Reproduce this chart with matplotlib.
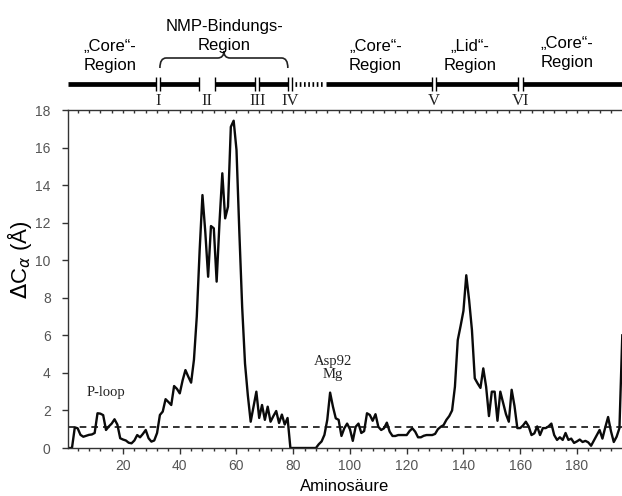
import numpy as np
import matplotlib
matplotlib.use("Agg")
import matplotlib.pyplot as plt
from matplotlib.path import Path
from matplotlib.patches import PathPatch
from matplotlib.ticker import MultipleLocator

plt.rcParams['font.family'] = ['Liberation Sans', 'DejaVu Sans']

# per-residue C-alpha displacement
residue = np.arange(1, 197)
dca = [
    0.0, 0.0, 1.1, 1.05, 0.7, 0.6, 0.65, 0.7, 0.72, 0.8,
    1.85, 1.83, 1.75, 0.96, 1.15, 1.3, 1.53, 1.25, 0.52, 0.45,
    0.4, 0.28, 0.25, 0.4, 0.69, 0.57, 0.75, 0.96, 0.52, 0.34,
    0.4, 0.8, 1.76, 1.94, 2.6, 2.45, 2.29, 3.3, 3.15, 2.91,
    3.6, 4.15, 3.8, 3.48, 4.7, 7.0, 10.5, 13.47, 11.5, 9.12,
    11.82, 11.7, 8.86, 12.0, 14.63, 12.23, 12.85, 17.1, 17.43, 15.87,
    11.5, 7.5, 4.5, 2.8, 1.4, 2.2, 3.0, 1.6, 2.29, 1.5,
    2.2, 1.4, 1.7, 1.97, 1.33, 1.78, 1.25, 1.6, 0.0, 0.0,
    0.0, 0.0, 0.0, 0.0, 0.0, 0.0, 0.0, 0.0, 0.2, 0.35,
    0.7, 1.5, 2.95, 2.2, 1.58, 1.5, 0.64, 1.05, 1.3, 1.0,
    0.38, 1.13, 1.3, 0.8, 0.9, 1.85, 1.76, 1.45, 1.8, 1.13,
    0.96, 1.05, 1.35, 0.87, 0.64, 0.64, 0.69, 0.69, 0.69, 0.69,
    0.9, 1.05, 0.87, 0.57, 0.57, 0.65, 0.69, 0.69, 0.69, 0.75,
    1.0, 1.13, 1.22, 1.5, 1.7, 2.0, 3.26, 5.75, 6.5, 7.3,
    9.2, 7.88, 6.28, 3.71, 3.44, 3.2, 4.24, 3.26, 1.7, 3.0,
    3.0, 1.45, 3.0, 2.4, 1.8, 1.4, 3.1, 2.24, 1.06, 1.06,
    1.2, 1.4, 1.15, 0.69, 0.78, 1.15, 0.69, 1.06, 1.06, 1.15,
    1.3, 0.69, 0.43, 0.57, 0.43, 0.8, 0.43, 0.5, 0.27, 0.35,
    0.45, 0.32, 0.38, 0.3, 0.12, 0.4, 0.69, 0.96, 0.5, 1.1,
    1.65, 0.9, 0.32, 0.6, 1.06, 6.0,
]
threshold = 1.12

# domain bar above the plot (residue numbers)
bar_solid = [(0.6, 31.6), (33.2, 46.7), (52.4, 66.6), (68.0, 78.3),
             (91.6, 129.0), (130.2, 159.3), (160.9, 196.0)]
bar_dotted = (80.6, 90.5)
break_lines = [31.6, 33.2, 46.7, 52.4, 66.6, 68.0, 78.3, 79.7,
               129.0, 130.2, 159.3, 160.9]
numerals = ['I', 'II', 'III', 'IV', 'V', 'VI']
numeral_pos = [32.4, 49.6, 67.3, 79.0, 129.6, 160.1]
brace_span = (33.0, 78.1)

region_labels = ['\u201eCore\u201c-\nRegion', 'NMP-Bindungs-\nRegion',
                 '\u201eCore\u201c-\nRegion', '\u201eLid\u201c-\nRegion',
                 '\u201eCore\u201c-\nRegion']
region_pos = [15.4, 55.6, 109.0, 142.2, 176.5]

xlim = (0.6, 195.9)

fig = plt.figure(figsize=(6.22, 4.96), dpi=100)
ax = fig.add_axes([68/622, 48/496, 554/622, 338/496])

ax.plot(residue, dca, color='#0a0a0a', lw=1.7)
ax.axhline(threshold, color='#111111', lw=1.2, linestyle=(0, (4, 3)))

ax.set_xlim(*xlim)
ax.set_ylim(0, 18)
ax.xaxis.set_major_locator(MultipleLocator(20))
ax.xaxis.set_minor_locator(MultipleLocator(4))
ax.yaxis.set_major_locator(MultipleLocator(2))
ax.spines['right'].set_visible(False)
for s in ['left', 'bottom', 'top']:
    ax.spines[s].set_color('#333333')
    ax.spines[s].set_linewidth(1.0)
ax.tick_params(axis='both', which='major', direction='out', length=4.5,
               width=1.0, color='#333333', labelsize=10, labelcolor='#555555')
ax.tick_params(axis='y', pad=8)
ax.tick_params(axis='x', which='minor', direction='out', length=2.5,
               width=1.0, color='#333333')

sec = ax.secondary_xaxis('top')
sec.xaxis.set_major_locator(MultipleLocator(20))
sec.xaxis.set_minor_locator(MultipleLocator(4))
sec.tick_params(which='both', direction='in', length=2.5, width=1.0,
                color='#333333', labeltop=False)
sec.spines['top'].set_visible(False)

ax.set_xlabel('Aminosäure', fontsize=12, labelpad=4)
fig.text(20/622, 1 - 260/496, r'$\Delta$C$_\alpha$ (Å)', fontsize=16,
         rotation=90, ha='center', va='center')

ax.text(14.0, 2.93, 'P-loop', family='Liberation Serif', fontsize=10.5,
        ha='center', va='center', color='#222222')
ax.text(94.0, 4.25, 'Asp92\nMg', family='Liberation Serif', fontsize=10.5,
        ha='center', va='center', color='#222222', linespacing=0.95)

# header strip: x in residues, y in pixels from the figure top
top = fig.add_axes([68/622, 386/496, 554/622, 110/496])
top.set_xlim(*xlim)
top.set_ylim(110, 0)
top.axis('off')

for a, b in bar_solid:
    top.plot([a, b], [84, 84], color='black', lw=3.4, solid_capstyle='butt',
             clip_on=False)
top.plot(bar_dotted, [84, 84], color='black', lw=3.4,
         linestyle=(0, (0.35, 0.55)), solid_capstyle='butt')
top.vlines(break_lines, 77, 91, color='black', lw=1.0)

for name, xp in zip(numerals, numeral_pos):
    top.text(xp, 101, name, family='Liberation Serif', fontsize=12,
             ha='center', va='center', color='#222222')

b0, b1 = brace_span
bm = (b0 + b1) / 2
r = 2.2
verts = [(b0, 68), (b0, 58), (b0 + r, 58), (bm - r, 58), (bm, 58), (bm, 51),
         (bm, 58), (bm + r, 58), (b1 - r, 58), (b1, 58), (b1, 68)]
codes = [Path.MOVETO, Path.CURVE3, Path.CURVE3, Path.LINETO, Path.CURVE3,
         Path.CURVE3, Path.CURVE3, Path.CURVE3, Path.LINETO, Path.CURVE3,
         Path.CURVE3]
top.add_patch(PathPatch(Path(verts, codes), fill=False, lw=1.2,
                        edgecolor='#222222'))

for lab, xp in zip(region_labels, region_pos):
    yc = 36 if lab.startswith('NMP') else 56
    if xp > 170:
        yc = 53
    top.text(xp, yc, lab, fontsize=12, ha='center', va='center',
             linespacing=1.3)

fig.savefig('out.png', dpi=100)
